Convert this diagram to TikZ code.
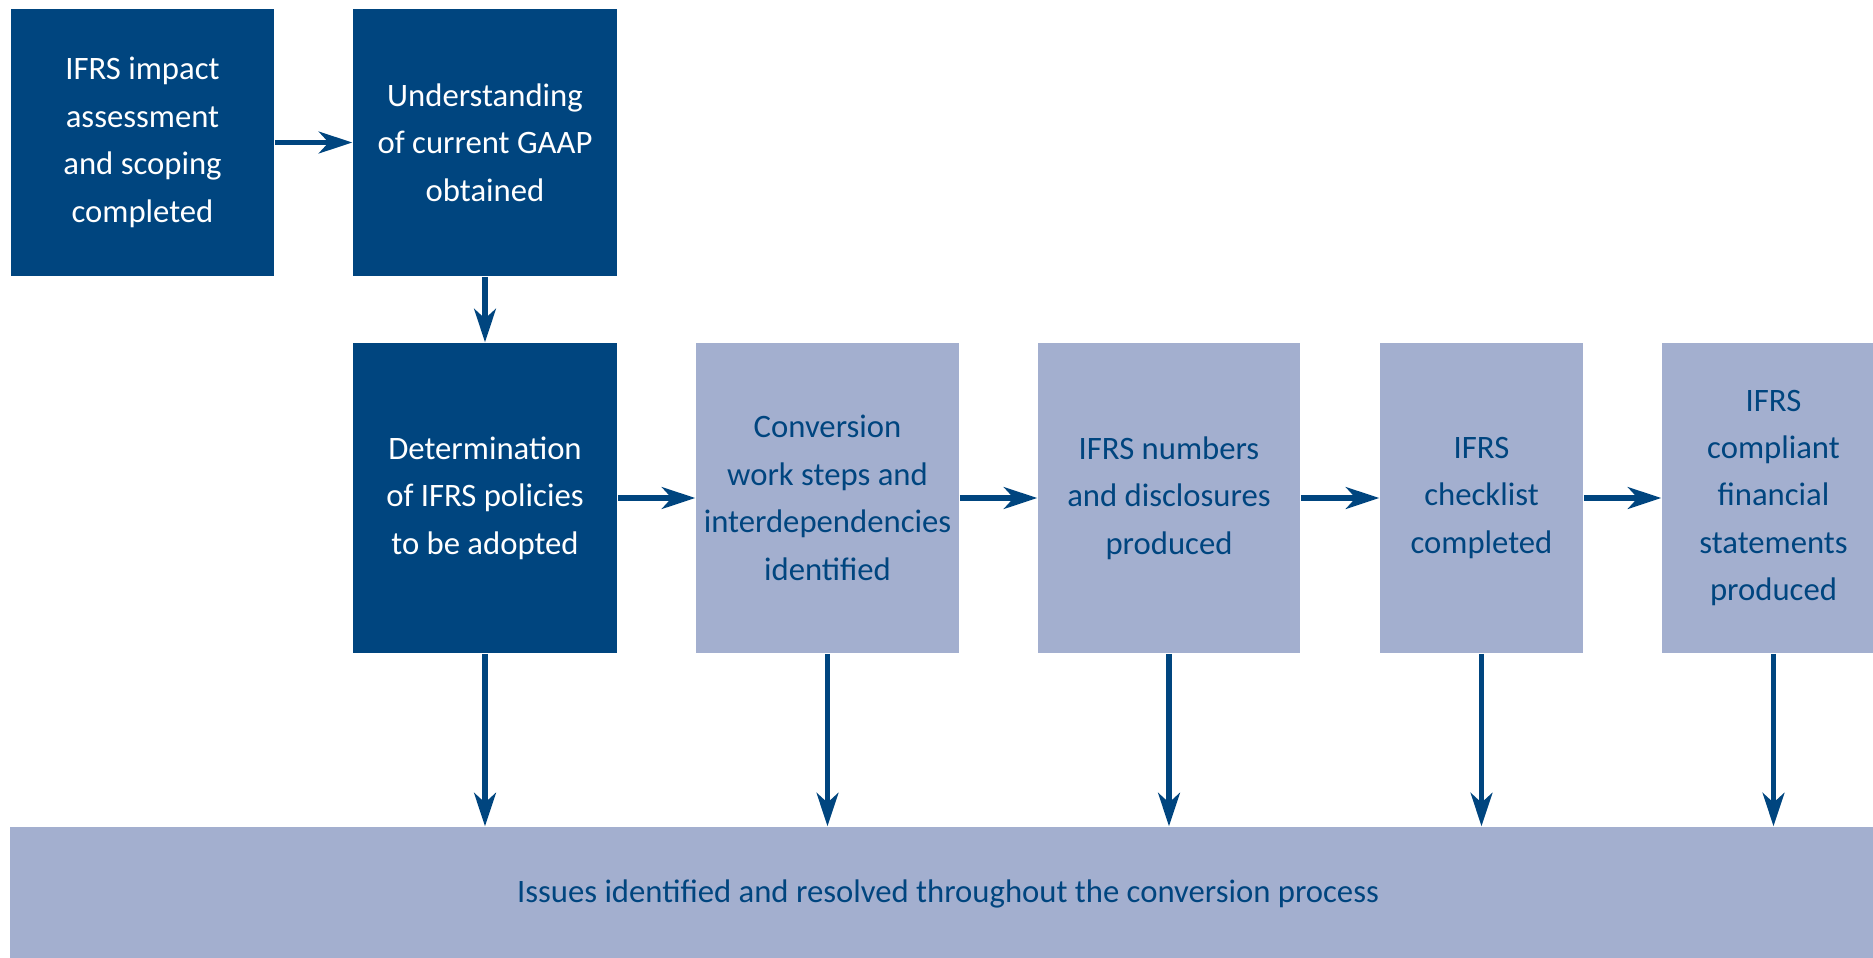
\documentclass[tikz,border=0pt]{standalone}
\usepackage{fontspec}
\setmainfont{Carlito}
\usetikzlibrary{arrows.meta}
\definecolor{ifrsdark}{HTML}{00457F}
\definecolor{ifrslight}{HTML}{A3AFCF}

\begin{document}
\begin{tikzpicture}[x=0.01cm, y=-0.01cm,
	dark/.style={fill=ifrsdark, text=white, inner sep=0pt, align=center,
		font=\fontsize{9.3}{13.5}\selectfont, minimum width=2.64cm, minimum height=2.67cm},
	light/.style={dark, fill=ifrslight, text=ifrsdark, minimum height=3.1cm},
	arr/.style={draw=ifrsdark, line width=1.45pt, -{Stealth[length=9.5pt, width=6.2pt, inset=2.8pt]}}]
	\clip (0,0) rectangle (1873,957);
	% first row
	\node [dark, minimum width=2.63cm] (impact) at (142.5,142.5) {IFRS impact\\assessment\\and scoping\\completed};
	\node [dark] (gaap) at (485,142.5) {Understanding\\of current GAAP\\obtained};
	% second row
	\node [dark, minimum height=3.1cm] (policies) at (485,498) {Determination\\of IFRS policies\\to be adopted};
	\node [light, minimum width=2.63cm] (steps) at (827.5,498) {Conversion\\work steps and\\interdependencies\\identified};
	\node [light, minimum width=2.62cm] (numbers) at (1169,498) {IFRS numbers\\and disclosures\\produced};
	\node [light, minimum width=2.03cm] (checklist) at (1481.5,498) {IFRS\\checklist\\completed};
	\node [light, minimum width=2.23cm] (statements) at (1773.5,498) {IFRS\\compliant\\financial\\statements\\produced};
	% bottom bar
	\node [light, minimum width=18.74cm, minimum height=1.33cm] (issues) at (948,893.5) {Issues identified and resolved throughout the conversion process};

	\draw [arr] (impact) -- (gaap);
	\draw [arr] (gaap) -- (policies);
	\draw [arr] (policies) -- (steps);
	\draw [arr] (steps) -- (numbers);
	\draw [arr] (numbers) -- (checklist);
	\draw [arr] (checklist) -- (statements);
	\foreach \n in {policies,steps,numbers,checklist,statements}
		\draw [arr] (\n.south) -- (\n.south |- issues.north);
\end{tikzpicture}
\end{document}
